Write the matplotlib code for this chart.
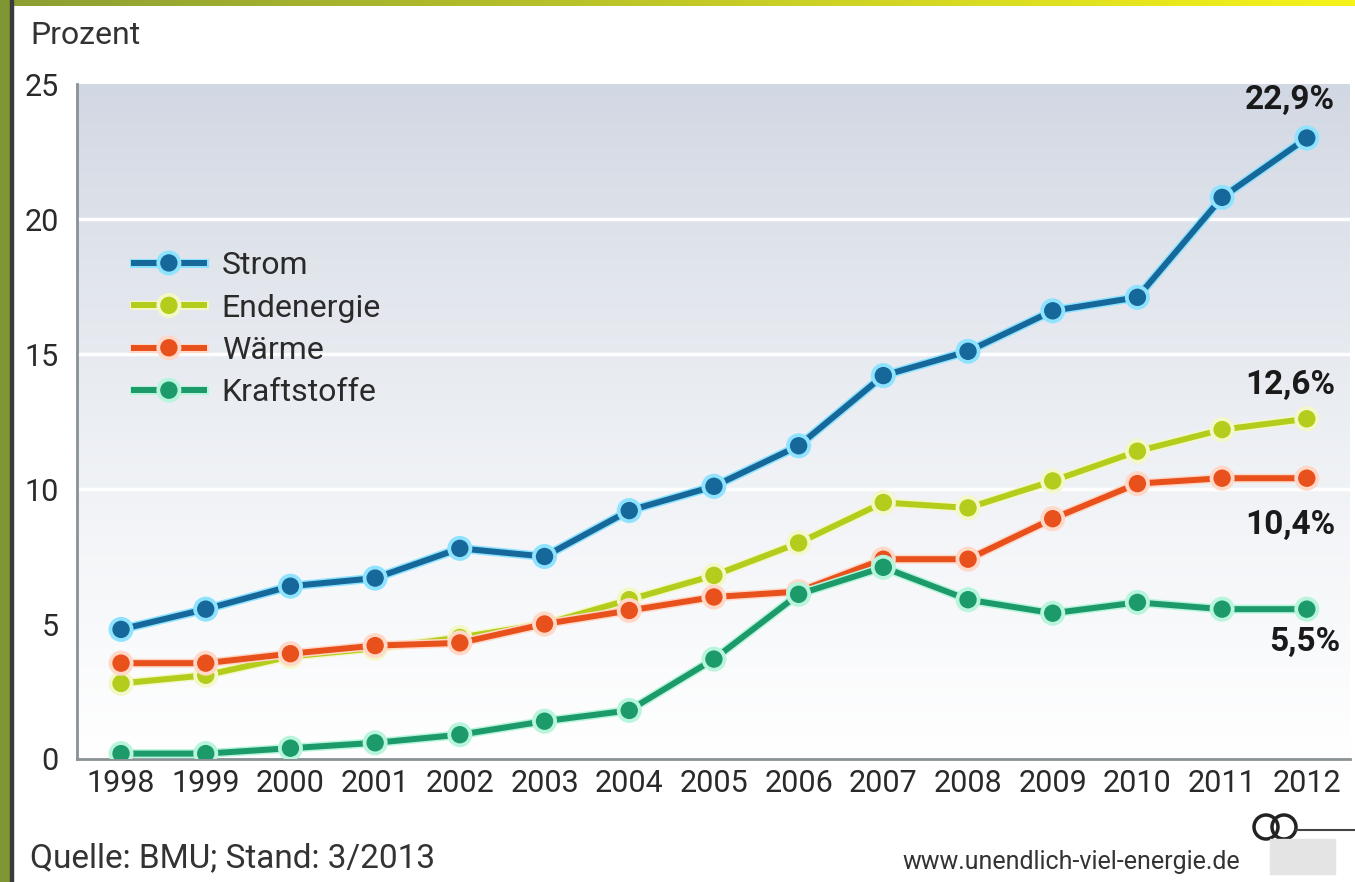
import numpy as np
import matplotlib
matplotlib.use("Agg")
import matplotlib.pyplot as plt
import matplotlib.patheffects as pe
from matplotlib.patches import Rectangle, Ellipse
from matplotlib.lines import Line2D
from matplotlib.colors import LinearSegmentedColormap

plt.rcParams['font.family'] = ['Roboto', 'DejaVu Sans']

years = list(range(1998, 2013))
strom = [4.8, 5.55, 6.4, 6.7, 7.8, 7.5, 9.2, 10.1, 11.6, 14.2, 15.1, 16.6, 17.1, 20.8, 23.0]
endenergie = [2.8, 3.1, 3.8, 4.1, 4.5, 5.0, 5.9, 6.8, 8.0, 9.5, 9.3, 10.3, 11.4, 12.2, 12.6]
waerme = [3.55, 3.55, 3.9, 4.2, 4.3, 5.0, 5.5, 6.0, 6.2, 7.4, 7.4, 8.9, 10.2, 10.4, 10.4]
kraftstoffe = [0.2, 0.2, 0.4, 0.6, 0.9, 1.4, 1.8, 3.7, 6.1, 7.1, 5.9, 5.4, 5.8, 5.55, 5.55]

series = [
    ("Strom", strom, "#17689a", "#8fe3ff"),
    ("Endenergie", endenergie, "#b4cc1c", "#f4f8c8"),
    ("Wärme", waerme, "#e8501c", "#ffd8c8"),
    ("Kraftstoffe", kraftstoffe, "#1d9a6a", "#b8f5dc"),
]
end_labels = ["22,9%", "12,6%", "10,4%", "5,5%"]

fig = plt.figure(figsize=(13.55, 8.82), dpi=100)
fig.patch.set_facecolor("white")

# frame decoration: olive stripe left, olive->yellow bar on top
fig.patches.append(Rectangle((0, 0), 10 / 1355, 1, transform=fig.transFigure,
                             color="#7f9632", zorder=0))
fig.patches.append(Rectangle((10 / 1355, 0), 3 / 1355, 1, transform=fig.transFigure,
                             color="#3a3a3a", zorder=0))
top = fig.add_axes([0, 1 - 6 / 882, 1, 6 / 882])
top.imshow(np.linspace(0, 1, 256)[None, :], aspect="auto",
           cmap=LinearSegmentedColormap.from_list("t", ["#8c9e34", "#f6f31a"]))
top.axis("off")

ax = fig.add_axes([77 / 1355, 123 / 882, 1273 / 1355, 675 / 882])
ax.set_xlim(1997.48, 2012.51)
ax.set_ylim(0, 25)

grad = LinearSegmentedColormap.from_list("g", ["#ffffff", "#f3f5f8", "#e4e8ee", "#d2d8e3"])
ax.imshow(np.linspace(0, 1, 256)[:, None], aspect="auto", cmap=grad, origin="lower",
          extent=[1997.48, 2012.51, 0, 25], zorder=0)

for yv in [10, 15, 20]:
    ax.axhline(yv, color="white", lw=2.5, zorder=1)

for name, vals, col, halo in series:
    ax.plot(years, vals, color=col, lw=4.3, marker="o", ms=11.5, label=name, zorder=3,
            path_effects=[pe.Stroke(linewidth=6.5, foreground=halo), pe.Normal()])

txt = dict(fontsize=24, fontweight="bold", color="#1a1a1a", ha="center", va="center")
ax.text(2011.8, 24.4, end_labels[0], **txt)
ax.text(2011.8, 13.85, end_labels[1], **txt)
ax.text(2011.8, 8.67, end_labels[2], **txt)
ax.text(2011.98, 4.33, end_labels[3], **txt)

for s in ["top", "right"]:
    ax.spines[s].set_visible(False)
for s in ["left", "bottom"]:
    ax.spines[s].set_color("#8a9296")
    ax.spines[s].set_linewidth(2)
ax.spines["left"].set_zorder(4)

ax.set_xticks(years)
ax.set_yticks([0, 5, 10, 15, 20, 25])
ax.tick_params(length=0, labelsize=22, colors="#2a2a2a")
ax.tick_params(axis="y", pad=13)
ax.tick_params(axis="x", pad=7)

handles = [Line2D([], [], color=c, lw=4.3, marker="o", ms=11.5,
                  path_effects=[pe.Stroke(linewidth=6.5, foreground=h), pe.Normal()])
           for _, _, c, h in series]
ax.legend(handles, [s[0] for s in series], loc="upper left", bbox_to_anchor=(0.022, 0.795),
          frameon=False, fontsize=23, handlelength=2.2, labelspacing=0.42,
          handletextpad=0.55, labelcolor="#2a2a2a")

fig.text(30 / 1355, 1 - 35 / 882, "Prozent", fontsize=23, color="#333333", va="center")
fig.text(30 / 1355, 1 - 858 / 882, "Quelle: BMU; Stand: 3/2013", fontsize=24,
         color="#333333", va="center")
fig.text(1240 / 1355, 1 - 862 / 882, "www.unendlich-viel-energie.de", fontsize=18,
         color="#333333", va="center", ha="right")

# small logo
for cx in [1266, 1284]:
    fig.patches.append(Ellipse((cx / 1355, 1 - 827 / 882), 24 / 1355, 24 / 882,
                               transform=fig.transFigure, fill=False, lw=2.5, ec="#222222"))
fig.add_artist(Line2D([1296 / 1355, 1355 / 1355], [1 - 830 / 882, 1 - 830 / 882],
                      color="#444444", lw=1.5, transform=fig.transFigure))
fig.patches.append(Rectangle((1270 / 1355, 8 / 882), 65 / 1355, 35 / 882,
                             transform=fig.transFigure, color="#e4e4e4"))

fig.savefig("out.png", dpi=100)
